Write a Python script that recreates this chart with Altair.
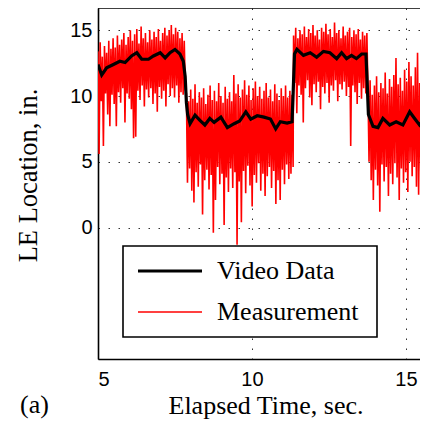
import altair as alt
import pandas as pd

# ---- Video data (black) ----
video_t = [5.0, 5.12, 5.28, 5.5, 5.71, 5.88, 6.09, 6.26, 6.42, 6.64, 6.8, 7.02, 7.18, 7.34, 7.5, 7.66,
           7.77, 7.83, 7.87, 7.91, 7.99, 8.15, 8.31, 8.47, 8.63, 8.77, 8.99, 9.2, 9.42, 9.6, 9.8, 9.96,
           10.17, 10.39, 10.6, 10.77, 10.92, 11.14, 11.3, 11.34, 11.38, 11.46, 11.67, 11.89, 12.1, 12.32,
           12.53, 12.75, 12.91, 13.07, 13.23, 13.39, 13.56, 13.7, 13.74, 13.78, 13.93, 14.09, 14.25, 14.47,
           14.68, 14.9, 15.12, 15.28, 15.44, 15.68]
video_y = [12.4, 11.6, 12.15, 12.4, 12.65, 12.55, 13.05, 13.3, 12.8, 12.8, 13.05, 13.3, 12.9, 13.3, 13.55, 13.2,
           12.65, 11.5, 9.5, 8.6, 7.9, 8.55, 8.15, 7.8, 8.3, 8.0, 8.4, 7.6, 7.9, 8.1, 8.8, 8.25,
           8.5, 8.4, 8.25, 7.5, 8.05, 7.95, 8.05, 10.5, 13.2, 13.55, 13.1, 13.3, 12.95, 13.4,
           13.3, 12.85, 13.3, 12.85, 13.1, 12.85, 13.2, 13.2, 11.0, 8.6, 7.7, 7.6, 8.3, 7.8,
           8.05, 7.8, 8.8, 8.3, 7.8, 8.5]

# ---- Measurement (red), sampled every meas_dt from each segment start ----
meas_dt = 0.035
meas_start = [5.0, 7.87, 11.35, 13.765]
meas_a = [13.4, 5.6, 14.1, 9.6, 13.0, 6.2, 13.8, 10.2, 13.3, 8.6, 14.2, 7.7, 13.6, 10.1, 14.4, 9.4,
          13.7, 7.7, 14.6, 10.3, 13.9, 9.5, 14.3, 10.6, 14.8, 8.0, 13.9, 10.2, 14.5, 9.8, 15.0, 9.0,
          14.2, 6.8, 14.7, 6.9, 15.1, 10.4, 14.0, 9.7, 15.3, 10.8, 14.4, 9.2, 14.8, 10.5, 14.1, 9.9,
          15.0, 10.6, 14.3, 9.4, 14.9, 10.2, 14.5, 8.8, 15.1, 10.7, 14.2, 9.8, 14.8, 10.4, 15.2, 9.2,
          14.6, 10.9, 15.0, 10.0, 15.4, 10.6, 14.7, 9.9, 15.2, 10.8, 14.9, 9.5, 14.4, 10.3, 14.8, 10.1,
          14.2, 10.5]
meas_b = [10.2, 3.4, 9.6, 4.5, 10.5, 2.8, 9.8, 1.9, 10.9, 4.2, 9.5, 3.1, 10.3, 4.8, 9.9, 1.0,
          10.6, 3.6, 9.4, 4.4, 10.1, 2.9, 10.8, 4.0, 9.7, -0.4, 10.4, 2.1, 9.6, 4.6, 11.0, 3.3,
          10.0, 4.1, 9.5, 0.2, 10.7, 3.8, 9.8, 2.7, 10.3, 4.5, 9.6, 3.0, 11.6, 4.2, 10.2, -1.3,
          10.9, 3.5, 9.9, 0.4, 10.5, 4.3, 11.2, 2.6, 10.1, 4.7, 10.8, 3.2, 9.7, 1.6, 10.6, 4.0,
          11.1, 3.4, 10.0, 4.9, 10.7, 2.8, 9.8, 4.1, 10.4, 2.4, 11.0, 3.9, 9.9, 4.6, 10.5, 3.0,
          9.6, 4.3, 10.9, 1.8, 10.2, 3.6, 9.7, 2.1, 10.6, 4.4, 10.0, 3.3, 10.8, 4.8, 9.9, 3.7,
          10.4, 4.1, 10.1, 4.6]
meas_c = [14.6, 11.0, 15.2, 8.7, 14.4, 10.8, 15.0, 10.1, 14.7, 8.0, 15.3, 10.6, 14.5, 11.2, 15.1, 9.9,
          14.8, 9.3, 15.4, 10.9, 14.6, 10.3, 15.0, 11.1, 14.3, 9.0, 15.2, 10.7, 14.9, 10.2, 15.5, 11.0,
          14.7, 9.5, 15.1, 10.8, 14.5, 10.4, 15.6, 11.2, 14.8, 9.6, 15.0, 10.9, 14.4, 10.5, 15.3, 11.1,
          14.6, 10.0, 14.9, 10.7, 15.2, 6.2, 14.5, 10.8, 15.0, 10.3, 14.7, 9.4, 15.1, 11.0, 14.3, 9.8,
          14.9, 10.6, 14.6, 10.2, 14.8]
meas_d = [10.5, 5.0, 11.2, 3.6, 10.1, 2.1, 10.8, 4.4, 11.5, 3.2, 10.3, 1.2, 11.0, 4.8, 10.6, 3.5,
          11.8, 4.6, 10.2, 2.4, 11.3, 4.1, 10.7, 3.3, 11.6, 4.9, 12.9, 3.8, 10.9, 2.1, 11.4, 4.5,
          10.4, 3.4, 12.0, 4.2, 11.1, 2.7, 12.6, 5.0, 11.5, 3.9, 10.8, 4.6, 12.2, 3.1, 13.3, 2.5,
          11.0, 4.3, 10.6, 3.7, 11.7, 4.8, 10.9, 4.9]

x_ticks = [5, 10, 15]
y_ticks = [0, 5, 10, 15]
legend_labels = ["Video Data", "Measurement"]

rows = []
for start, seg in zip(meas_start, [meas_a, meas_b, meas_c, meas_d]):
    for i, v in enumerate(seg):
        rows.append({"t": round(start + i * meas_dt, 4), "y": v})
meas_df = pd.DataFrame(rows)
video_df = pd.DataFrame({"t": video_t, "y": video_y})
one = pd.DataFrame({"k": [0]})

W, H = 322, 351
SERIF = "Liberation Serif"
SANS = "Liberation Sans"

xs = alt.Scale(domain=[5, 15.455], nice=False, zero=False)
ys = alt.Scale(domain=[-10, 16.7], nice=False, zero=False)

xaxis = alt.Axis(values=x_ticks, format="d", title="Elapsed Time, sec.",
                 labelFont=SANS, labelFontSize=20, labelColor="black", labelPadding=10,
                 ticks=False, domain=True, domainColor="black", domainWidth=1.6,
                 grid=True, gridColor="black", gridDash=[1.5, 8.5], gridWidth=1, gridOpacity=0.8,
                 titleFont=SERIF, titleFontSize=26, titleFontWeight="normal", titleColor="black",
                 titleX=167.5, titleY=54, titleAlign="center", titleBaseline="alphabetic")
yaxis = alt.Axis(values=y_ticks, format="d", title="LE Location, in.",
                 labelFont=SANS, labelFontSize=20, labelColor="black", labelPadding=6,
                 ticks=False, domain=True, domainColor="black", domainWidth=1.6,
                 grid=True, gridColor="black", gridDash=[1.5, 8.5], gridWidth=1, gridOpacity=0.8,
                 titleFont=SERIF, titleFontSize=26.5, titleFontWeight="normal", titleColor="black",
                 titleX=-61.5, titleY=167, titleAngle=270, titleAlign="center", titleBaseline="alphabetic")

red = alt.Chart(meas_df).mark_line(color="#ff0000", strokeWidth=1.6, clip=True).encode(
    x=alt.X("t:Q", scale=xs, axis=xaxis),
    y=alt.Y("y:Q", scale=ys, axis=yaxis),
)
black = alt.Chart(video_df).mark_line(color="black", strokeWidth=3.2, clip=True).encode(
    x=alt.X("t:Q", scale=xs),
    y=alt.Y("y:Q", scale=ys),
)
top_rule = alt.Chart(one).mark_rule(color="black", strokeWidth=1.6).encode(
    x=alt.value(0), x2=alt.value(W), y=alt.value(0))
leg_box = alt.Chart(one).mark_rect(fill="white", stroke="black", strokeWidth=1.6).encode(
    x=alt.value(25), x2=alt.value(279), y=alt.value(238), y2=alt.value(329))
leg_black = alt.Chart(one).mark_rule(color="black", strokeWidth=3).encode(
    x=alt.value(40), x2=alt.value(104), y=alt.value(263))
leg_red = alt.Chart(one).mark_rule(color="#ff0000", strokeWidth=1.3).encode(
    x=alt.value(40), x2=alt.value(104), y=alt.value(304))
leg_t1 = alt.Chart(one).mark_text(text=legend_labels[0], font=SERIF, fontSize=26, align="left",
                                  baseline="alphabetic", color="black").encode(
    x=alt.value(119), y=alt.value(271))
leg_t2 = alt.Chart(one).mark_text(text=legend_labels[1], font=SERIF, fontSize=26, align="left",
                                  baseline="alphabetic", color="black").encode(
    x=alt.value(119), y=alt.value(312))
panel = alt.Chart(one).mark_text(text="(a)", font=SERIF, fontSize=26, align="left",
                                 baseline="alphabetic", color="black").encode(
    x=alt.value(-78), y=alt.value(405))

chart = alt.layer(red, black, top_rule, leg_box, leg_black, leg_red, leg_t1, leg_t2, panel).properties(
    width=W, height=H,
    autosize=alt.AutoSizeParams(type="none"),
    padding={"left": 90, "top": 0, "right": 0, "bottom": 60},
).configure_view(stroke="transparent")

chart.save("out.html", embed_options={"renderer": "svg", "actions": False})
